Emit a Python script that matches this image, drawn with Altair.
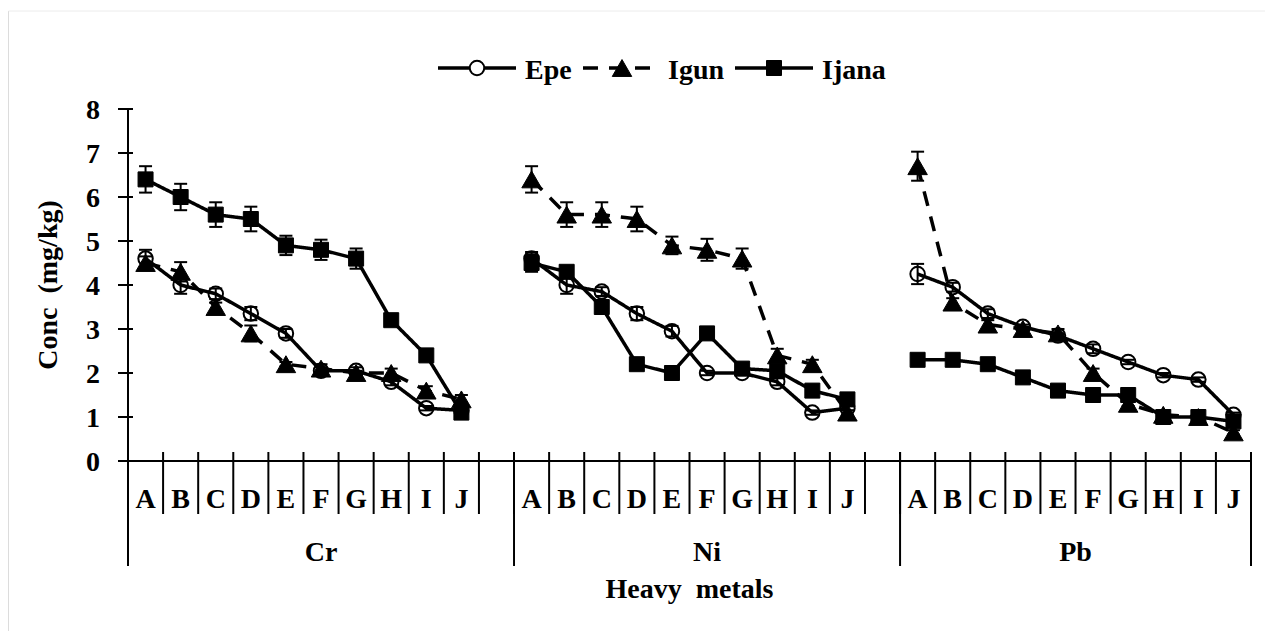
import altair as alt
import pandas as pd

# ---------------- data ----------------
categories = ["A", "B", "C", "D", "E", "F", "G", "H", "I", "J"]
metals = ["Cr", "Ni", "Pb"]
series = ["Epe", "Igun", "Ijana"]

epe_cr = [4.6, 4.0, 3.8, 3.35, 2.9, 2.05, 2.05, 1.8, 1.2, 1.15]
epe_ni = [4.6, 4.0, 3.85, 3.35, 2.95, 2.0, 2.0, 1.8, 1.1, 1.2]
epe_pb = [4.25, 3.95, 3.35, 3.05, 2.85, 2.55, 2.25, 1.95, 1.85, 1.05]

igun_cr = [4.5, 4.3, 3.5, 2.9, 2.2, 2.1, 2.0, 2.0, 1.6, 1.4]
igun_ni = [6.4, 5.6, 5.6, 5.5, 4.9, 4.8, 4.6, 2.4, 2.2, 1.1]
igun_pb = [6.7, 3.6, 3.1, 3.0, 2.9, 2.0, 1.3, 1.05, 1.0, 0.65]

ijana_cr = [6.4, 6.0, 5.6, 5.5, 4.9, 4.8, 4.6, 3.2, 2.4, 1.1]
ijana_ni = [4.5, 4.3, 3.5, 2.2, 2.0, 2.9, 2.1, 2.05, 1.6, 1.4]
ijana_pb = [2.3, 2.3, 2.2, 1.9, 1.6, 1.5, 1.5, 1.0, 1.0, 0.9]

epe_cr_err = [0.2, 0.2, 0.12, 0.15, 0.1, 0.08, 0.08, 0.08, 0.05, 0.05]
epe_ni_err = [0.15, 0.2, 0.1, 0.15, 0.12, 0.05, 0.05, 0.08, 0.05, 0.05]
epe_pb_err = [0.23, 0.1, 0.1, 0.05, 0.05, 0.1, 0.05, 0.05, 0.05, 0.05]

igun_cr_err = [0.15, 0.22, 0.1, 0.18, 0.05, 0.1, 0.05, 0.1, 0.1, 0.1]
igun_ni_err = [0.3, 0.28, 0.28, 0.28, 0.2, 0.25, 0.23, 0.15, 0.1, 0.05]
igun_pb_err = [0.33, 0.1, 0.1, 0.05, 0.1, 0.1, 0.05, 0.1, 0.05, 0.05]

ijana_cr_err = [0.3, 0.3, 0.28, 0.28, 0.22, 0.23, 0.23, 0.05, 0.05, 0.05]
ijana_ni_err = [0.2, 0.1, 0.1, 0.05, 0.05, 0.05, 0.05, 0.1, 0.05, 0.05]
ijana_pb_err = [0.05, 0.05, 0.05, 0.05, 0.05, 0.05, 0.05, 0.05, 0.05, 0.05]

y_ticks = [0, 1, 2, 3, 4, 5, 6, 7, 8]
x_title = "Heavy\u00a0 metals"
y_title = "Conc\u00a0 (mg/kg)"

values = {
    "Epe": [epe_cr, epe_ni, epe_pb],
    "Igun": [igun_cr, igun_ni, igun_pb],
    "Ijana": [ijana_cr, ijana_ni, ijana_pb],
}
errors = {
    "Epe": [epe_cr_err, epe_ni_err, epe_pb_err],
    "Igun": [igun_cr_err, igun_ni_err, igun_pb_err],
    "Ijana": [ijana_cr_err, ijana_ni_err, ijana_pb_err],
}

# ---------------- layout ----------------
W, H = 1123, 352
FONT = "Liberation Serif"
FS = 28
slots_per_group = len(categories) + 1
n_slots = slots_per_group * len(metals) - 1

rows = []
for s in series:
    for gi, m in enumerate(metals):
        for ci, c in enumerate(categories):
            v = values[s][gi][ci]
            e = errors[s][gi][ci]
            rows.append(dict(series=s, metal=m, cat=c,
                             pos=gi * slots_per_group + ci + 0.5,
                             value=v, lo=v - e, hi=v + e))
df = pd.DataFrame(rows)

cat_df = pd.DataFrame([dict(cat=c, pos=gi * slots_per_group + ci + 0.5)
                       for gi, m in enumerate(metals)
                       for ci, c in enumerate(categories)])
grp_df = pd.DataFrame([dict(metal=m,
                            pos=(gi * slots_per_group +
                                 min((gi + 1) * slots_per_group, n_slots)) / 2)
                       for gi, m in enumerate(metals)])
bounds = list(range(0, n_slots + 1))
group_bounds = [gi * slots_per_group for gi in range(len(metals))] + [n_slots]
bnd_df = pd.DataFrame({"b": bounds})
gbnd_df = pd.DataFrame({"b": group_bounds})
yt_df = pd.DataFrame({"v": y_ticks})
one = pd.DataFrame({"xt": [x_title], "yt": [y_title]})

xscale = alt.Scale(domain=[0, n_slots], nice=False, zero=False)
yscale = alt.Scale(domain=[0, 8], nice=False, zero=True)

base = alt.Chart(df)


def xq(field):
    return alt.X(field, scale=xscale, axis=None)


def yq(field):
    return alt.Y(field, scale=yscale, axis=None)


TXT = dict(font=FONT, fontSize=FS, fontWeight="bold", color="black")

layers = []

# faint chart-area border
layers.append(alt.Chart(one).mark_rule(color="#dcdcdc", strokeWidth=1).encode(
    x=alt.value(-119.5), y=alt.value(-98), y2=alt.value(H + 170)))
layers.append(alt.Chart(one).mark_rule(color="#ececec", strokeWidth=1).encode(
    x=alt.value(-119.5), x2=alt.value(W + 14), y=alt.value(-98)))

# axis lines
layers.append(alt.Chart(one).mark_rule(color="black", strokeWidth=2).encode(
    x=alt.value(0), y=alt.value(0), y2=alt.value(H)))
layers.append(alt.Chart(one).mark_rule(color="black", strokeWidth=2).encode(
    x=alt.value(0), x2=alt.value(W), y=alt.value(H)))

# y ticks (crossing) and labels
layers.append(alt.Chart(yt_df).mark_rule(color="black", strokeWidth=2).encode(
    y=yq("v:Q"), x=alt.value(-10), x2=alt.value(5)))
layers.append(alt.Chart(yt_df).mark_text(align="right", baseline="alphabetic", dy=10, **TXT).encode(
    y=yq("v:Q"), x=alt.value(-28), text="v:Q"))
# y title
layers.append(alt.Chart(one).mark_text(align="center", baseline="alphabetic", angle=270, **TXT).encode(
    x=alt.value(-71), y=alt.value(H / 2), text="yt:N"))

# x ticks / separators
layers.append(alt.Chart(bnd_df).mark_rule(color="black", strokeWidth=2).encode(
    x=xq("b:Q"), y=alt.value(H - 9), y2=alt.value(H + 53)))
layers.append(alt.Chart(gbnd_df).mark_rule(color="black", strokeWidth=2).encode(
    x=xq("b:Q"), y=alt.value(H - 9), y2=alt.value(H + 105)))
# category / group labels
layers.append(alt.Chart(cat_df).mark_text(baseline="alphabetic", align="center", **TXT).encode(
    x=xq("pos:Q"), y=alt.value(H + 47), text="cat:N"))
layers.append(alt.Chart(grp_df).mark_text(baseline="alphabetic", align="center", **TXT).encode(
    x=xq("pos:Q"), y=alt.value(H + 100), text="metal:N"))
# x title
layers.append(alt.Chart(one).mark_text(baseline="alphabetic", align="center", **TXT).encode(
    x=alt.value(W / 2), y=alt.value(H + 137), text="xt:N"))

styles = {
    "Epe": dict(dash=[1, 0], shape="circle", size=210, filled=False),
    "Igun": dict(dash=[15, 11], shape="triangle-up", size=380, filled=True),
    "Ijana": dict(dash=[1, 0], shape="square", size=225, filled=True),
}
LW = 3.5

for s in series:
    st = styles[s]
    sd = base.transform_filter(alt.datum.series == s)
    layers.append(sd.mark_line(color="black", strokeWidth=LW, strokeDash=st["dash"]).encode(
        x=xq("pos:Q"), y=yq("value:Q"), detail="metal:N"))
    layers.append(sd.mark_rule(color="black", strokeWidth=2).encode(
        x=xq("pos:Q"), y=yq("lo:Q"), y2="hi:Q"))
    for f in ["lo", "hi"]:
        layers.append(sd.mark_rule(color="black", strokeWidth=2, xOffset=-6.5, x2Offset=6.5).encode(
            x=xq("pos:Q"), x2="pos:Q", y=yq(f + ":Q")))
    if st["filled"]:
        pm = sd.mark_point(shape=st["shape"], size=st["size"], filled=True,
                           fill="black", stroke="black", strokeWidth=1, opacity=1)
    else:
        pm = sd.mark_point(shape=st["shape"], size=st["size"], filled=False,
                           stroke="black", strokeWidth=2, opacity=1)
    layers.append(pm.encode(x=xq("pos:Q"), y=yq("value:Q")))

# custom legend (line + marker + label)
legend_layout = {"Epe": (310, 397), "Igun": (455, 540), "Ijana": (607, 694)}
LEG_Y = -41
SEG = 78
for s in series:
    st = styles[s]
    x0, tx = legend_layout[s]
    ld = alt.Chart(pd.DataFrame({"name": [s]}))
    layers.append(ld.mark_rule(color="black", strokeWidth=LW, strokeDash=st["dash"]).encode(
        x=alt.value(x0), x2=alt.value(x0 + SEG), y=alt.value(LEG_Y)))
    if st["filled"]:
        lm = ld.mark_point(shape=st["shape"], size=st["size"], filled=True, fill="black",
                           stroke="black", strokeWidth=1, opacity=1)
    else:
        lm = ld.mark_point(shape=st["shape"], size=st["size"], filled=False, fill="white",
                           stroke="black", strokeWidth=2, opacity=1)
    layers.append(lm.encode(x=alt.value(x0 + SEG / 2), y=alt.value(LEG_Y)))
    layers.append(ld.mark_text(align="left", baseline="alphabetic", **TXT).encode(
        x=alt.value(tx), y=alt.value(LEG_Y + 11), text="name:N"))

chart = alt.layer(*layers).properties(
    width=W, height=H,
    autosize=alt.AutoSizeParams(type="none"),
    padding={"left": 120, "top": 101, "right": 14, "bottom": 170},
    background="white",
).configure_view(stroke=None)

chart.save("out.html", embed_options={"renderer": "svg", "actions": False})
